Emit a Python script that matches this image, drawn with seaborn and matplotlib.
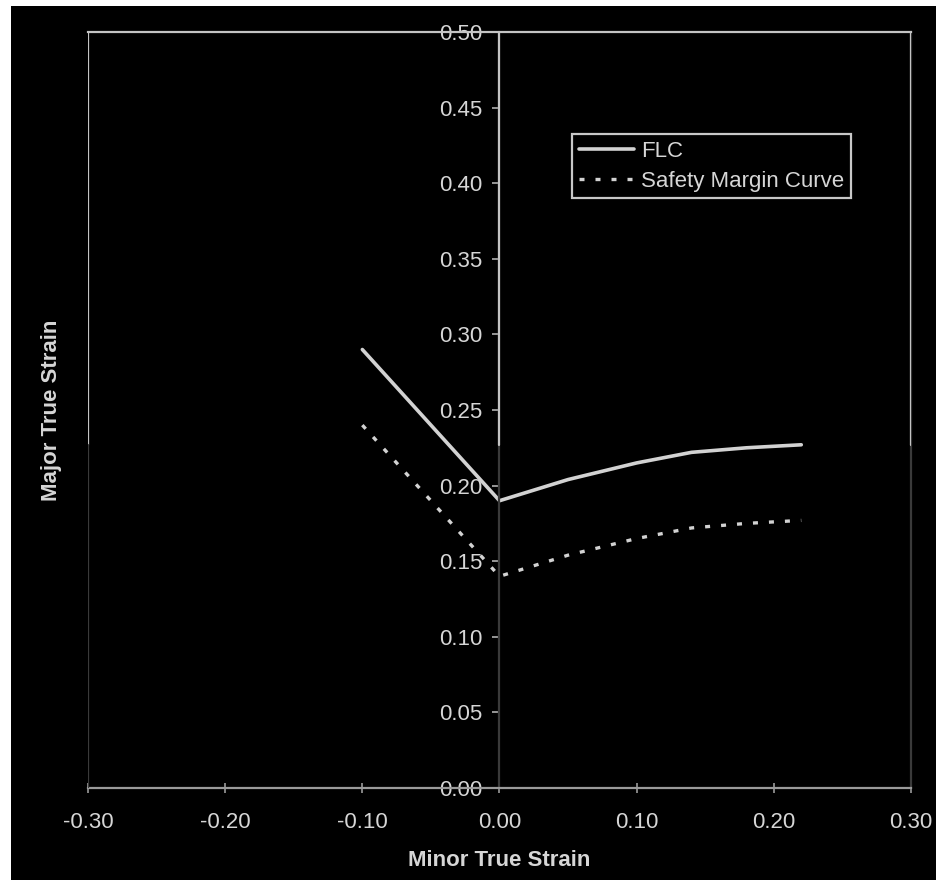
import matplotlib
matplotlib.use("Agg")
import matplotlib.pyplot as plt
from matplotlib.patches import Rectangle
from matplotlib.ticker import FormatStrFormatter
import pandas as pd
import seaborn as sns

# Forming limit curve and its safety margin (true strains)
minor_flc = [-0.10, -0.05, 0.00, 0.05, 0.10, 0.14, 0.18, 0.22]
major_flc = [0.290, 0.240, 0.190, 0.204, 0.215, 0.222, 0.225, 0.227]

minor_safety = [-0.10, -0.05, 0.00, 0.05, 0.10, 0.14, 0.18, 0.22]
major_safety = [0.240, 0.190, 0.140, 0.154, 0.165, 0.172, 0.175, 0.177]

series_names = ["FLC", "Safety Margin Curve"]
x_ticks = [-0.30, -0.20, -0.10, 0.00, 0.10, 0.20, 0.30]
y_ticks = [0.00, 0.05, 0.10, 0.15, 0.20, 0.25, 0.30, 0.35, 0.40, 0.45, 0.50]

flc_df = pd.DataFrame({"minor": minor_flc, "major": major_flc})
safety_df = pd.DataFrame({"minor": minor_safety, "major": major_safety})

sns.set_theme(style="dark")
plt.rcParams["font.family"] = ["Liberation Sans", "DejaVu Sans"]
plt.rcParams["axes.unicode_minus"] = False

TXT = "#d6d6d6"
BRIGHT = "#c4c4c4"
DIM = "#3a3a3a"
DOTS = (0, (1.5, 3.3))
FS = 16

fig = plt.figure(figsize=(9.37, 8.8), dpi=100, facecolor="black")
# light margins along the top and left edges of the page
fig.patches.append(Rectangle((0, 0), 11 / 937, 1, transform=fig.transFigure,
                             facecolor="white", edgecolor="none", zorder=-5))
fig.patches.append(Rectangle((0, 1 - 6 / 880), 1, 6 / 880, transform=fig.transFigure,
                             facecolor="white", edgecolor="none", zorder=-5))

ax = fig.add_axes([88 / 937, 1 - 788 / 880, (911 - 88) / 937, (788 - 32) / 880])
ax.set_facecolor("black")

sns.lineplot(data=flc_df, x="minor", y="major", ax=ax, color="#d2d2d2",
             linewidth=2.6, label=series_names[0], sort=False)
sns.lineplot(data=safety_df, x="minor", y="major", ax=ax, color="#d2d2d2",
             linewidth=2.4, label=series_names[1], sort=False)
ax.lines[1].set_linestyle(DOTS)
ax.lines[1].set_dash_capstyle("butt")

ax.set_xlim(-0.30, 0.30)
ax.set_ylim(0.00, 0.50)
ax.set_xticks(x_ticks)
ax.set_yticks(y_ticks)
ax.xaxis.set_major_formatter(FormatStrFormatter("%.2f"))
ax.yaxis.set_major_formatter(FormatStrFormatter("%.2f"))
ax.grid(False)

# y axis runs through the origin; the frame is closed by extra lines
ax.spines["left"].set_position(("data", 0.0))
ax.spines["left"].set_color(DIM)
ax.spines["right"].set_color(DIM)
ax.spines["top"].set_color(BRIGHT)
ax.spines["bottom"].set_color("#9a9a9a")
for sp in ax.spines.values():
    sp.set_linewidth(1.6)

split = 0.4537
for xv in (-0.30, 0.00, 0.30):
    ax.axvline(xv, ymin=split, ymax=1.0, color=BRIGHT, linewidth=1.6, zorder=3)
ax.axvline(-0.30, ymin=0.0, ymax=split, color=DIM, linewidth=1.6, zorder=3)

ax.tick_params(axis="x", colors="#9a9a9a", labelcolor=TXT, labelsize=FS,
               direction="inout", length=7, width=1.2, pad=14, bottom=True)
ax.tick_params(axis="y", colors="#b0b0b0", labelcolor=TXT, labelsize=FS,
               direction="out", length=5, width=1.2, pad=7, left=True)

ax.set_xlabel("Minor True Strain", fontsize=FS, fontweight="bold", color=TXT,
              labelpad=12)
ax.set_ylabel("Major True Strain", fontsize=FS, fontweight="bold", color=TXT)
ax.yaxis.set_label_coords(-0.032, 0.5, transform=ax.transAxes)

leg = ax.legend(loc="upper left", bbox_to_anchor=(0.588, 0.865),
                borderaxespad=0, frameon=True, fancybox=False,
                facecolor="black", edgecolor="#c8c8c8", fontsize=FS,
                handlelength=2.5, handletextpad=0.3, labelspacing=0.4,
                borderpad=0.3)
leg.get_frame().set_linewidth(1.6)
leg.get_frame().set_alpha(1.0)
for t in leg.get_texts():
    t.set_color(TXT)
leg.get_lines()[1].set_linestyle(DOTS)

fig.savefig("out.png", dpi=100, facecolor=fig.get_facecolor())
